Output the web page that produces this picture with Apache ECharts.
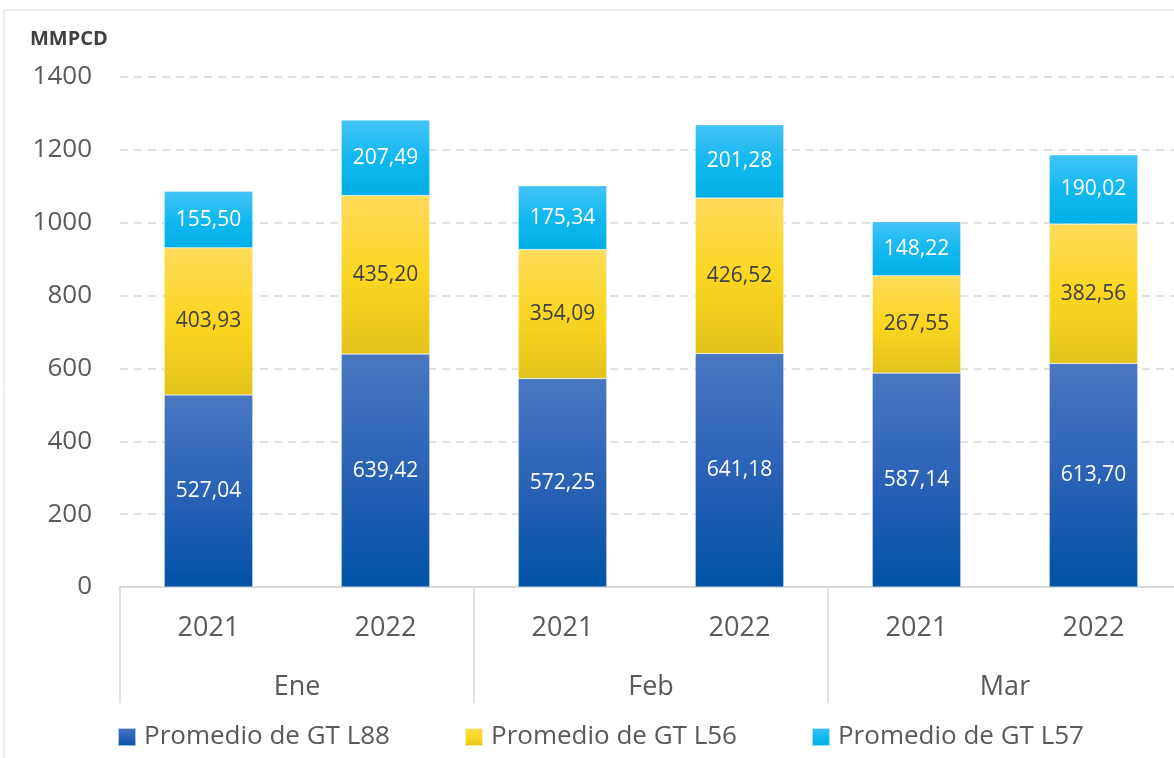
<!DOCTYPE html>
<html><head><meta charset="utf-8">
<script src="https://cdn.jsdelivr.net/npm/echarts@6/dist/echarts.min.js"></script>
<style>html,body{margin:0;padding:0;background:#fff}#c{width:1174px;height:758px}</style>
</head><body><div id="c"></div>
<script>
const years = ['2021','2022','2021','2022','2021','2022'];
const months = ['Ene','Feb','Mar'];
const seriesNames = ['Promedio de GT L88','Promedio de GT L56','Promedio de GT L57'];
const l88 = [527.04, 639.42, 572.25, 641.18, 587.14, 613.70];
const l56 = [403.93, 435.20, 354.09, 426.52, 267.55, 382.56];
const l57 = [155.50, 207.49, 175.34, 201.28, 148.22, 190.02];
const yTicks = [0, 200, 400, 600, 800, 1000, 1200, 1400];

const FONT = 'Open Sans';
const TXT = '#595959';
function grad(top, mid, bottom){
  return new echarts.graphic.LinearGradient(0,0,0,1,[
    {offset:0,color:top},{offset:0.5,color:mid},{offset:1,color:bottom}]);
}
const colors = [
  grad('#4a78c2','#2a62b6','#0052a8'),
  grad('#fedb5a','#fbd622','#e2c31a'),
  grad('#45c4f6','#12b8f0','#00aee6')
];
const fmt = p => p.value.toFixed(2).replace('.', ',');
const labelColors = ['#ffffff','#404040','#ffffff'];
const datas = [l88, l56, l57];

const chart = echarts.init(document.getElementById('c'), null, {renderer:'canvas'});
chart.setOption({
  animation:false,
  textStyle:{fontFamily:FONT},
  grid:{left:120, width:1062, top:77, height:510, containLabel:false, outerBoundsMode:'none'},
  graphic:[
    {type:'rect', shape:{x:4,y:10,width:1200,height:800}, style:{fill:'none', stroke:'#d9d9d9', lineWidth:1}, silent:true},
    {type:'text', left:30, top:29, style:{text:'MMPCD', font:'bold 20px "Open Sans"', fill:'#404040'}}
  ],
  legend:{
    bottom:3, left:112, itemWidth:18, itemHeight:18, itemGap:74, icon:'rect',
    textStyle:{fontFamily:FONT, fontSize:26, color:TXT, padding:[0,0,0,3]},
    data:seriesNames
  },
  xAxis:[
    {type:'category', data:years, position:'bottom',
     axisLine:{show:true, lineStyle:{color:'#d9d9d9', width:2}},
     axisTick:{show:false},
     axisLabel:{fontFamily:FONT, fontSize:27, color:TXT, margin:28}},
    {type:'category', data:months, position:'bottom',
     axisLine:{show:false},
     axisTick:{show:true, length:116, lineStyle:{color:'#d9d9d9', width:1.5}},
     axisLabel:{fontFamily:FONT, fontSize:27, color:TXT, margin:87}}
  ],
  yAxis:{type:'value', min:yTicks[0], max:yTicks[yTicks.length-1], interval:200,
    axisLine:{show:false}, axisTick:{show:false},
    axisLabel:{fontFamily:FONT, fontSize:26, color:TXT, margin:28, formatter: v => String(v)},
    splitLine:{lineStyle:{color:'#d9d9d9', type:[8,6], width:1.5}}},
  series: seriesNames.map((n,i)=>({
    name:n, type:'bar', stack:'t', xAxisIndex:0, barWidth:'50%',
    data:datas[i],
    itemStyle:{color:colors[i], borderColor:'rgba(255,255,255,0.6)', borderWidth:0.5},
    label:{show:true, position:'inside', formatter:fmt, fontFamily:FONT, fontSize:21, color:labelColors[i]}
  }))
});
</script></body></html>
